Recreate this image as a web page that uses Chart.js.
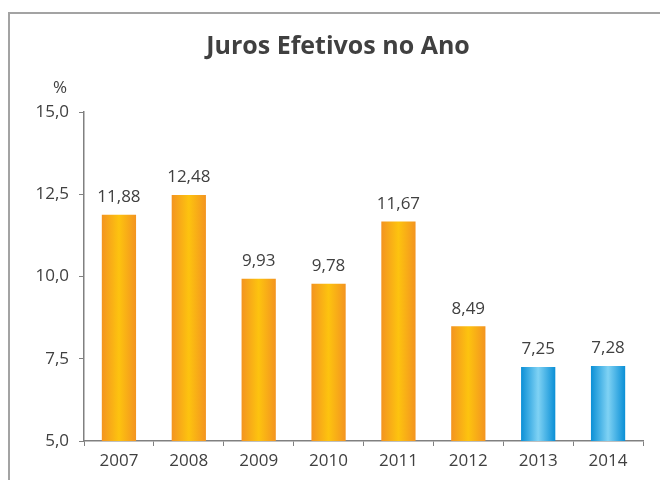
<!DOCTYPE html>
<html>
<head>
<meta charset="utf-8">
<script src="https://cdn.jsdelivr.net/npm/chart.js@4/dist/chart.umd.min.js"></script>
<style>
  html, body { margin: 0; padding: 0; background: #fff; }
  #wrap { width: 660px; height: 480px; }
</style>
</head>
<body>
<div id="wrap"><canvas id="barChart" width="660" height="480"></canvas></div>
<script>
const anos = ['2007', '2008', '2009', '2010', '2011', '2012', '2013', '2014'];
const juros = [11.88, 12.48, 9.93, 9.78, 11.67, 8.49, 7.25, 7.28];
const yTicks = [5, 7.5, 10, 12.5, 15];

const textColor = '#404040';
const fmt = v => v.toLocaleString('pt-BR', { minimumFractionDigits: 2, maximumFractionDigits: 2 });

const decor = {
    id: 'decor',
    beforeDraw(chart) {
        const ctx = chart.ctx;
        ctx.save();
        ctx.strokeStyle = '#a3a3a3';
        ctx.lineWidth = 2;
        ctx.beginPath();
        ctx.moveTo(9, 480);
        ctx.lineTo(9, 13);
        ctx.lineTo(660, 13);
        ctx.stroke();
        ctx.restore();
    },
    // gradient for each bar, lighter in the middle
    beforeDatasetsDraw(chart) {
        const ctx = chart.ctx;
        chart.getDatasetMeta(0).data.forEach((bar, i) => {
            const half = bar.width / 2;
            if (!isFinite(bar.x) || !isFinite(half)) return;
            const g = ctx.createLinearGradient(bar.x - half, 0, bar.x + half, 0);
            if (i >= 6) {
                g.addColorStop(0, '#0a8fd6');
                g.addColorStop(0.5, '#7fd2f4');
                g.addColorStop(1, '#0a8fd6');
            } else {
                g.addColorStop(0, '#f39420');
                g.addColorStop(0.5, '#fdc30f');
                g.addColorStop(1, '#f39420');
            }
            bar.options = Object.assign({}, bar.options, { backgroundColor: g });
        });
    },
    afterDatasetsDraw(chart) {
        const ctx = chart.ctx;
        ctx.save();
        ctx.fillStyle = textColor;
        ctx.textAlign = 'center';
        ctx.textBaseline = 'middle';
        ctx.font = 'bold 25px "Open Sans", sans-serif';
        ctx.fillText('Juros Efetivos no Ano', 338, 47);
        ctx.font = '17px "Open Sans", sans-serif';
        ctx.fillText('%', 60, 88);
        ctx.textBaseline = 'bottom';
        chart.getDatasetMeta(0).data.forEach((bar, i) => {
            ctx.fillText(fmt(juros[i]), bar.x, bar.y - 9);
        });
        ctx.restore();
    }
};

new Chart(document.getElementById('barChart').getContext('2d'), {
    type: 'bar',
    data: {
        labels: anos,
        datasets: [{
            data: juros,
            backgroundColor: c => (c.dataIndex >= 6 ? '#0a8fd6' : '#f7a81b'),
            categoryPercentage: 1,
            barPercentage: 0.49
        }]
    },
    options: {
        responsive: false,
        animation: false,
        layout: { padding: { top: 112, right: 17, left: 0, bottom: 0 } },
        plugins: {
            legend: { display: false },
            tooltip: { enabled: false }
        },
        scales: {
            x: {
                afterFit: s => { s.height = 39; },
                grid: { drawOnChartArea: false, drawTicks: true, tickLength: 5, color: '#808080' },
                border: { color: '#808080', width: 1.5 },
                ticks: { color: textColor, font: { family: 'Open Sans', size: 17 }, padding: 5 }
            },
            y: {
                min: 5,
                max: 15,
                afterFit: s => { s.width = 84; },
                afterBuildTicks: s => { s.ticks = yTicks.map(v => ({ value: v })); },
                grid: { drawOnChartArea: false, drawTicks: true, tickLength: 5, color: '#808080' },
                border: { color: '#808080', width: 1.5 },
                ticks: {
                    color: textColor,
                    font: { family: 'Open Sans', size: 17 },
                    padding: 10,
                    callback: v => v.toLocaleString('pt-BR', { minimumFractionDigits: 1, maximumFractionDigits: 1 })
                }
            }
        }
    },
    plugins: [decor]
});
</script>
</body>
</html>
